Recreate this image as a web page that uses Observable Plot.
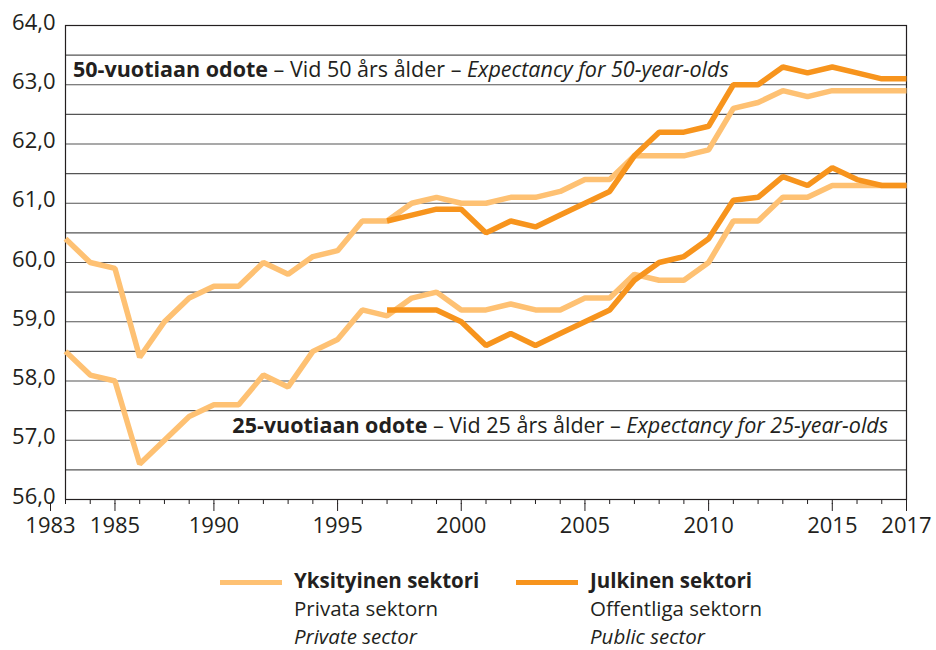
<!DOCTYPE html>
<html>
<head>
<meta charset="utf-8">
<script src="https://cdn.jsdelivr.net/npm/d3@7"></script>
<script src="https://cdn.jsdelivr.net/npm/@observablehq/plot@0.6"></script>
<style>
  html, body { margin: 0; padding: 0; background: #fff; }
  body { width: 936px; height: 650px; position: relative; font-family: "Open Sans", sans-serif; color: #231f20; }
  #chart { position: absolute; left: 0; top: 0; }
  .legend-item { position: absolute; top: 566px; display: flex; }
  .swatch { width: 62px; height: 5px; margin-top: 14px; margin-right: 12px; }
  .legend-text { font-size: 20.5px; line-height: 28px; }
  .legend-text b { font-weight: 700; }
</style>
</head>
<body>
<div id="chart"></div>
<div class="legend-item" style="left:220px;">
  <div class="swatch" style="background:#fec173;"></div>
  <div class="legend-text"><b>Yksityinen sektori</b><br>Privata sektorn<br><i>Private sector</i></div>
</div>
<div class="legend-item" style="left:516px;">
  <div class="swatch" style="background:#f7941d;"></div>
  <div class="legend-text"><b>Julkinen sektori</b><br>Offentliga sektorn<br><i>Public sector</i></div>
</div>
<script>
// ---- data ----
const years = [1983,1984,1985,1986,1987,1988,1989,1990,1991,1992,1993,1994,1995,1996,1997,1998,1999,2000,2001,2002,2003,2004,2005,2006,2007,2008,2009,2010,2011,2012,2013,2014,2015,2016,2017];
const private50 = [60.4,60.0,59.9,58.4,59.0,59.4,59.6,59.6,60.0,59.8,60.1,60.2,60.7,60.7,61.0,61.1,61.0,61.0,61.1,61.1,61.2,61.4,61.4,61.8,61.8,61.8,61.9,62.6,62.7,62.9,62.8,62.9,62.9,62.9,62.9];
const private25 = [58.5,58.1,58.0,56.6,57.0,57.4,57.6,57.6,58.1,57.9,58.5,58.7,59.2,59.1,59.4,59.5,59.2,59.2,59.3,59.2,59.2,59.4,59.4,59.8,59.7,59.7,60.0,60.7,60.7,61.1,61.1,61.3,61.3,61.3,61.3];
const publicYears = [1996,1997,1998,1999,2000,2001,2002,2003,2004,2005,2006,2007,2008,2009,2010,2011,2012,2013,2014,2015,2016,2017];
const public50 = [60.7,60.8,60.9,60.9,60.5,60.7,60.6,60.8,61.0,61.2,61.8,62.2,62.2,62.3,63.0,63.0,63.3,63.2,63.3,63.2,63.1,63.1];
const public25 = [59.2,59.2,59.2,59.0,58.6,58.8,58.6,58.8,59.0,59.2,59.7,60.0,60.1,60.4,61.05,61.1,61.45,61.3,61.6,61.4,61.3,61.3];
const yTicks = [56,57,58,59,60,61,62,63,64];
const gridY = [56.5,57,57.5,58,58.5,59,59.5,60,60.5,61,61.5,62,62.5,63,63.5];
const xLabelYears = [1983,1985,1989,1994,1999,2004,2009,2014,2017];
const xTickLabels = ["1983","1985","1990","1995","2000","2005","2010","2015","2017"];
const seriesNames = ["Yksityinen sektori","Julkinen sektori"];
const colors = ["#fec173","#f7941d"];

// ---- tables ----
const rows = [];
years.forEach((y,i) => { rows.push({year:y, value:private50[i], series:"p50", sector:seriesNames[0]}); });
years.forEach((y,i) => { rows.push({year:y, value:private25[i], series:"p25", sector:seriesNames[0]}); });
publicYears.forEach((y,i) => { rows.push({year:y, value:public50[i], series:"j50", sector:seriesNames[1]}); });
publicYears.forEach((y,i) => { rows.push({year:y, value:public25[i], series:"j25", sector:seriesNames[1]}); });
const labelMap = new Map(xLabelYears.map((y,i) => [y, xTickLabels[i]]));
const commaFmt = d => d3.format(".1f")(d).replace(".", ",");

const plot = Plot.plot({
  width: 936,
  height: 545,
  marginLeft: 65,
  marginRight: 30,
  marginTop: 25,
  marginBottom: 46,
  style: {fontFamily: "'Open Sans', sans-serif", fontSize: "22px", color: "#231f20", background: "#fff"},
  x: {domain: [1983, 2017]},
  y: {domain: [56, 64]},
  color: {domain: seriesNames, range: colors},
  marks: [
    Plot.ruleY(gridY, {stroke: "#555", strokeWidth: 1.1}),
    Plot.frame({stroke: "#231f20", strokeWidth: 1.2}),
    Plot.axisY(yTicks, {tickSize: 0, tickPadding: 10, tickFormat: commaFmt, fontSize: 22, dy: -3, label: null}),
    Plot.axisX(years, {tickSize: 5, tickFormat: () => "", label: null, stroke: "#231f20"}),
    Plot.axisX(xLabelYears.slice(1), {tickSize: 8, tickPadding: 6, tickFormat: d => labelMap.get(d), fontSize: 22, dy: 4, label: null, stroke: "#231f20"}),
    Plot.axisX(xLabelYears.slice(0,1), {tickSize: 8, tickPadding: 6, tickFormat: d => labelMap.get(d), fontSize: 22, dy: 4, label: null, dx: -15, stroke: "#231f20"}),
    Plot.line(rows.filter(d => d.sector === seriesNames[0]), {x: "year", y: "value", z: "series", stroke: "sector", strokeWidth: 5.5, strokeLinejoin: "miter", strokeLinecap: "butt"}),
    Plot.line(rows.filter(d => d.sector === seriesNames[1]), {x: "year", y: "value", z: "series", stroke: "sector", strokeWidth: 5.5, strokeLinejoin: "miter", strokeLinecap: "butt"})
  ]
});
document.getElementById("chart").appendChild(plot);

// ---- annotations as real text, positioned through the plot's scales ----
const sx = plot.scale("x"), sy = plot.scale("y");
const svg = d3.select(plot);
function note(xPx, yVal, anchor, num) {
  const t = svg.append("text")
    .attr("x", xPx).attr("y", sy.apply(yVal)).attr("dy", "0.36em")
    .attr("text-anchor", anchor)
    .attr("fill", "#231f20")
    .style("font-family", "'Open Sans', sans-serif").style("font-size", "21.5px");
  t.append("tspan").attr("font-weight", 700).text(num + "-vuotiaan odote");
  t.append("tspan").text(" – Vid " + num + " års ålder – ");
  t.append("tspan").attr("font-style", "italic").text("Expectancy for " + num + "-year-olds");
}
note(sx.apply(1983) + 8, 63.25, "start", 50);
note(sx.apply(2017) - 18, 57.25, "end", 25);
</script>
</body>
</html>
